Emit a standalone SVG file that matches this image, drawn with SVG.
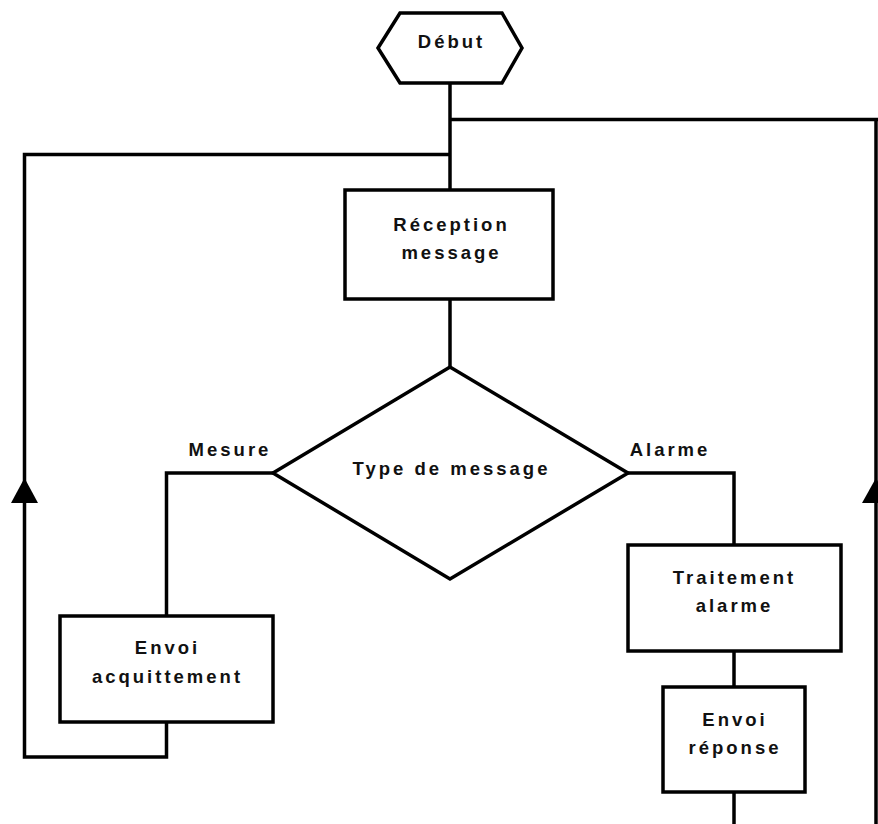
<svg xmlns="http://www.w3.org/2000/svg" width="878" height="824" viewBox="0 0 878 824">
<style>
.shape{fill:#fff;stroke:#000;stroke-width:3.5}
.wire{fill:none;stroke:#000;stroke-width:3.5}
.head{fill:#000;stroke:none}
text{font-family:"Liberation Sans",Arial,sans-serif;font-weight:bold;font-size:18.5px;letter-spacing:3px;fill:#111;text-anchor:middle}
</style>
<rect width="878" height="824" fill="#fff"/>
<g id="connectors">
<path class="wire" d="M450,83 V190"/>
<path class="wire" d="M450,119.5 H878"/>
<path class="wire" d="M450,154.5 H24.5 V757 H166.5 V722"/>
<path class="wire" d="M876,119.5 V824"/>
<path class="wire" d="M450,299 V367"/>
<path class="wire" d="M273,473 H166.5 V616"/>
<path class="wire" d="M628,473 H734 V545"/>
<path class="wire" d="M734,651 V687"/>
<path class="wire" d="M734,792 V824"/>
<polygon class="head" points="11,503 24.5,478 38,503"/>
<polygon class="head" points="862,503 876,478 890,503"/>
</g>
<g id="debut">
<polygon class="shape" points="378,48 400,13 502,13 522,48 502,83 400,83"/>
<text x="451.5" y="48">Début</text>
</g>
<g id="reception">
<rect class="shape" x="345" y="190" width="208" height="109"/>
<text x="451.5" y="231">Réception</text>
<text x="451.5" y="259">message</text>
</g>
<g id="type">
<polygon class="shape" points="273,473 450,367 628,473 450,579"/>
<text x="451.5" y="475">Type de message</text>
</g>
<g id="label-mesure"><text x="230" y="456">Mesure</text></g>
<g id="label-alarme"><text x="670" y="456">Alarme</text></g>
<g id="acquittement">
<rect class="shape" x="60" y="616" width="213" height="106"/>
<text x="167.5" y="654">Envoi</text>
<text x="167.5" y="683">acquittement</text>
</g>
<g id="traitement">
<rect class="shape" x="628" y="545" width="213" height="106"/>
<text x="734.5" y="584">Traitement</text>
<text x="734.5" y="612">alarme</text>
</g>
<g id="reponse">
<rect class="shape" x="663" y="687" width="142" height="105"/>
<text x="735" y="726">Envoi</text>
<text x="735" y="754">réponse</text>
</g>
</svg>
